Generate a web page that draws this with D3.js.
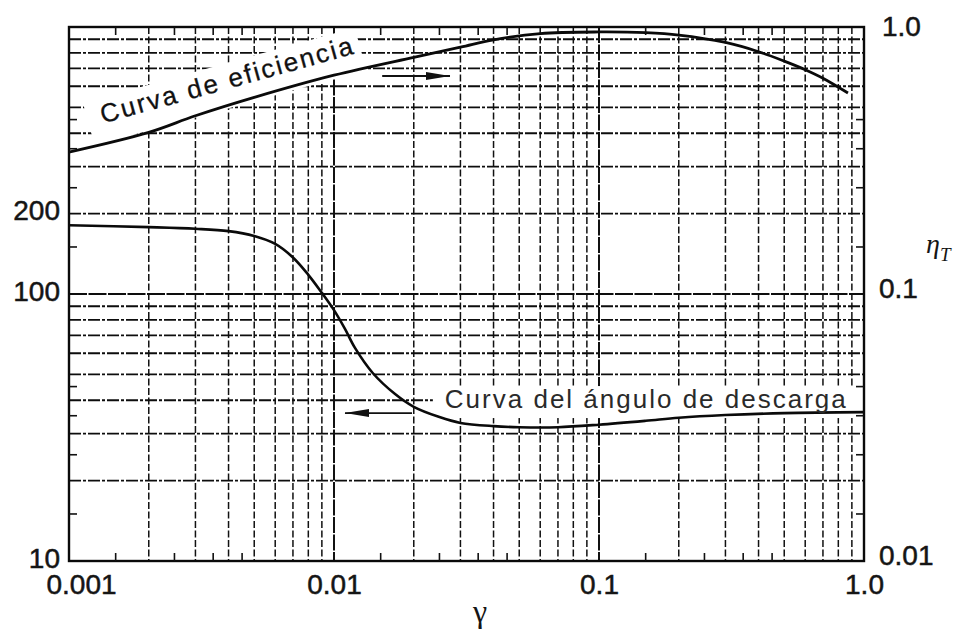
<!DOCTYPE html>
<html>
<head>
<meta charset="utf-8">
<script src="https://cdn.jsdelivr.net/npm/d3@7"></script>
<style>
body { margin: 0; background: #fff; }
svg { display: block; }
</style>
</head>
<body>
<svg width="963" height="632"></svg>
<script>
// efficiency curve (right axis, eta_T)
var effGamma = [0.001, 0.002, 0.003, 0.005, 0.01, 0.02, 0.03, 0.04, 0.06, 0.1, 0.15, 0.2, 0.3, 0.4, 0.5, 0.6, 0.7, 0.87];
var effEta   = [0.34, 0.403, 0.465, 0.545, 0.66, 0.77, 0.84, 0.895, 0.945, 0.958, 0.952, 0.933, 0.875, 0.808, 0.745, 0.692, 0.643, 0.566];

// discharge angle curve (left axis)
var angGamma = [0.001, 0.002, 0.003, 0.004, 0.005, 0.006, 0.007, 0.008, 0.009, 0.01, 0.011, 0.012, 0.014, 0.017, 0.02, 0.025, 0.03, 0.04, 0.05, 0.07, 0.1, 0.15, 0.2, 0.3, 0.5, 1.0];
var angDeg   = [181, 178, 175.5, 172, 165, 154, 137, 118, 101, 87, 74, 62.8, 50.6, 42.2, 37.8, 34.6, 32.9, 32.0, 31.7, 31.7, 32.4, 33.5, 34.4, 35.2, 35.8, 36.1];

// tick labels
var xTickValues = [0.001, 0.01, 0.1, 1];
var xTickLabels = ["0.001", "0.01", "0.1", "1.0"];
var leftTickValues = [10, 100, 200];
var leftTickLabels = ["10", "100", "200"];
var rightTickValues = [0.01, 0.1, 1];
var rightTickLabels = ["0.01", "0.1", "1.0"];
var minorMultiples = [1.5, 2.5, 3.5, 4.5];

var width = 963, height = 632;
var margin = { top: 27, right: 99, bottom: 71, left: 69 };

var svg = d3.select("svg");

var x = d3.scaleLog().domain([0.001, 1]).range([margin.left, width - margin.right]);
var yLeft = d3.scaleLog().domain([10, 1000]).range([height - margin.bottom, margin.top]);
var yRight = d3.scaleLog().domain([0.01, 1]).range([height - margin.bottom, margin.top]);

var xL = x.range()[0], xR = x.range()[1], yB = yLeft.range()[0], yT = yLeft.range()[1];

function isDecade(d) {
    var l = Math.log10(d);
    return Math.abs(l - Math.round(l)) < 1e-6;
}

// grid
var grid = svg.append("g").attr("class", "grid");

grid.selectAll(".vline")
    .data(x.ticks().filter(function (d) { return x(d) > xL + 1 && x(d) < xR - 1; }))
    .enter().append("line")
    .attr("x1", function (d) { return x(d); })
    .attr("x2", function (d) { return x(d); })
    .attr("y1", yT).attr("y2", yB)
    .attr("stroke", "#111")
    .attr("stroke-width", function (d) { return isDecade(d) ? 2 : 1.5; })
    .attr("stroke-dasharray", function (d) { return isDecade(d) ? "16,1.5" : "7,2.5"; });

grid.selectAll(".hline")
    .data(yLeft.ticks().filter(function (d) { return yLeft(d) < yB - 1 && yLeft(d) > yT + 1; }))
    .enter().append("line")
    .attr("x1", xL).attr("x2", xR)
    .attr("y1", function (d) { return yLeft(d); })
    .attr("y2", function (d) { return yLeft(d); })
    .attr("stroke", "#0d0d0d")
    .attr("stroke-width", function (d) { return isDecade(d) ? 2.2 : 1.9; })
    .attr("stroke-dasharray", function (d) { return isDecade(d) ? "18,1.5" : "12,2,3,2"; });

// white band behind "Curva de eficiencia"
var effAngle = -15.5;
var effLabel = svg.append("g")
    .attr("transform", "translate(" + x(0.00125) + "," + yRight(0.36) + ") rotate(" + effAngle + ")");
effLabel.append("rect")
    .attr("x", 0).attr("y", -44)
    .attr("width", 282).attr("height", 44)
    .attr("fill", "#fff");

// white box behind "Curva del angulo de descarga"
var angLabelX = x(0.0262), angLabelY = yLeft(37.4);
var angBg = svg.append("rect").attr("fill", "#fff");

// curves
var line = d3.line().curve(d3.curveCatmullRom.alpha(0.5));

svg.append("path")
    .attr("d", line(effGamma.map(function (g, i) { return [x(g), yRight(effEta[i])]; })))
    .attr("fill", "none")
    .attr("stroke", "#0a0a0a")
    .attr("stroke-width", 2.8);

svg.append("path")
    .attr("d", line(angGamma.map(function (g, i) { return [x(g), yLeft(angDeg[i])]; })))
    .attr("fill", "none")
    .attr("stroke", "#0a0a0a")
    .attr("stroke-width", 2.6);

// labels on curves
effLabel.append("text")
    .attr("x", 14).attr("y", -19)
    .attr("font-family", "Liberation Sans, Arial, sans-serif")
    .attr("font-size", 26)
    .attr("letter-spacing", 2.2)
    .attr("fill", "#111")
    .attr("stroke", "#111").attr("stroke-width", 0.3)
    .text("Curva de eficiencia");

var angText = svg.append("text")
    .attr("x", angLabelX).attr("y", angLabelY)
    .attr("font-family", "Liberation Sans, Arial, sans-serif")
    .attr("font-size", 26)
    .attr("letter-spacing", 2)
    .attr("fill", "#2a2a2a")
    .text("Curva del ángulo de descarga");

var bb = angText.node().getBBox();
angBg.attr("x", bb.x - 12).attr("y", bb.y + 2)
    .attr("width", xR - (bb.x - 12)).attr("height", bb.height + 2);

// arrows
function arrow(xa, xb, y, dir) {
    var tip = dir > 0 ? xb : xa;
    svg.append("line")
        .attr("x1", xa).attr("x2", xb).attr("y1", y).attr("y2", y)
        .attr("stroke", "#111").attr("stroke-width", 1.8);
    svg.append("path")
        .attr("d", "M" + tip + "," + y + "L" + (tip - dir * 24) + "," + (y - 4) + "L" + (tip - dir * 24) + "," + (y + 4) + "Z")
        .attr("fill", "#111");
}
arrow(x(0.0152), x(0.0274), yRight(0.6555), 1);
arrow(x(0.0110), x(0.0197), yLeft(35.8), -1);

// frame
svg.append("rect")
    .attr("x", xL).attr("y", yT)
    .attr("width", xR - xL).attr("height", yB - yT)
    .attr("fill", "none")
    .attr("stroke", "#0a0a0a")
    .attr("stroke-width", 2.4);

// minor ticks on frame
var ticks = svg.append("g").attr("stroke", "#111").attr("stroke-width", 1.6);
var xMinor = [], yMinor = [];
[0.001, 0.01, 0.1].forEach(function (d) { minorMultiples.forEach(function (m) { xMinor.push(d * m); }); });
[10, 100].forEach(function (d) { minorMultiples.forEach(function (m) { yMinor.push(d * m); }); });

ticks.selectAll(".tb").data(xMinor).enter().append("line")
    .attr("x1", function (d) { return x(d); }).attr("x2", function (d) { return x(d); })
    .attr("y1", yB).attr("y2", yB - 8);
ticks.selectAll(".tt").data(xMinor).enter().append("line")
    .attr("x1", function (d) { return x(d); }).attr("x2", function (d) { return x(d); })
    .attr("y1", yT).attr("y2", yT + 8);
ticks.selectAll(".tl").data(yMinor).enter().append("line")
    .attr("x1", xL).attr("x2", xL + 8)
    .attr("y1", function (d) { return yLeft(d); }).attr("y2", function (d) { return yLeft(d); });
ticks.selectAll(".tr").data(yMinor).enter().append("line")
    .attr("x1", xR).attr("x2", xR - 8)
    .attr("y1", function (d) { return yLeft(d); }).attr("y2", function (d) { return yLeft(d); });

// axes labels
var axisFont = "Liberation Sans, Arial, sans-serif";

var gx = svg.append("g")
    .attr("transform", "translate(0," + yB + ")")
    .call(d3.axisBottom(x).tickValues(xTickValues).tickSize(0).tickPadding(13)
        .tickFormat(function (d, i) { return xTickLabels[i]; }));

var gl = svg.append("g")
    .attr("transform", "translate(" + xL + ",0)")
    .call(d3.axisLeft(yLeft).tickValues(leftTickValues).tickSize(0).tickPadding(9)
        .tickFormat(function (d, i) { return leftTickLabels[i]; }));

var gr = svg.append("g")
    .attr("transform", "translate(" + xR + ",0)")
    .call(d3.axisRight(yRight).tickValues(rightTickValues).tickSize(0).tickPadding(15)
        .tickFormat(function (d, i) { return rightTickLabels[i]; }));

[gx, gl, gr].forEach(function (g) {
    g.select(".domain").remove();
    g.selectAll("text")
        .attr("font-family", axisFont)
        .attr("font-size", 28)
        .attr("fill", "#151515")
        .attr("stroke", "#151515")
        .attr("stroke-width", 0.5);
});
gx.selectAll("text").filter(function (d) { return d === 0.001; }).attr("dx", 12);
gl.selectAll("text").attr("dy", "0.22em");
gr.selectAll("text").attr("dy", "0.12em");
gr.selectAll("text").filter(function (d) { return d === 1; }).attr("dy", "0.3em").attr("dx", 3);

// axis titles
svg.append("text")
    .attr("x", x(0.0356)).attr("y", 622)
    .attr("text-anchor", "middle")
    .attr("font-family", "Liberation Serif, serif")
    .attr("font-size", 32)
    .attr("fill", "#151515")
    .text("γ");

var eta = svg.append("text")
    .attr("x", 926).attr("y", 253)
    .attr("font-family", "Liberation Serif, serif")
    .attr("font-style", "italic")
    .attr("font-size", 28)
    .attr("fill", "#151515");
eta.append("tspan").text("η");
eta.append("tspan").attr("font-size", 19).attr("dy", 8).text("T");
</script>
</body>
</html>
